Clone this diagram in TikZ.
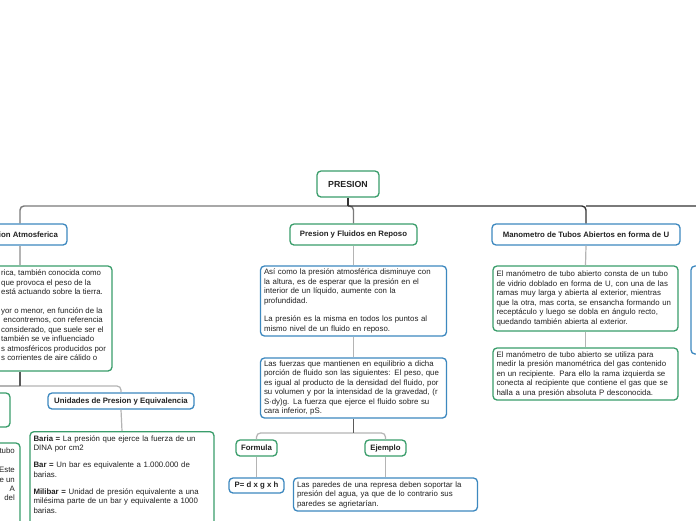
\documentclass[tikz,border=0pt]{standalone}
\usepackage{fontspec}
\setmainfont{Liberation Sans}
\definecolor{gboxc}{HTML}{3A9D6B}
\definecolor{bboxc}{HTML}{3D88BF}
\definecolor{txt}{HTML}{222222}
\definecolor{railgc}{HTML}{7A7A7A}
\definecolor{raildc}{HTML}{333333}
\definecolor{linkc}{HTML}{B4B4B4}
\definecolor{linkdc}{HTML}{5A5A5A}
\tikzset{
  boxbase/.style={draw, rounded corners=4pt, line width=1.3pt, fill=white, text=txt},
  body/.style={boxbase, inner xsep=3.5pt, inner ysep=2pt, align=left, font=\fontsize{7.85}{9.5}\selectfont},
  gbody/.style={body, draw=gboxc},
  bbody/.style={body, draw=bboxc},
  head/.style={boxbase, inner sep=0pt, align=center, font=\bfseries\fontsize{7.8}{9}\selectfont},
  ghead/.style={head, draw=gboxc},
  bhead/.style={head, draw=bboxc},
  plain/.style={inner sep=0pt, align=left, text=txt, font=\fontsize{7.85}{9.4}\selectfont},
  railg/.style={draw=railgc, line width=1.4pt},
  raild/.style={draw=raildc, line width=1.4pt},
  link/.style={draw=linkc, line width=1.2pt},
  linkd/.style={draw=linkdc, line width=1.2pt},
}
\begin{document}
\begin{tikzpicture}[x=1pt,y=-1pt]
\useasboundingbox (0,0) rectangle (696,520);
\fill[white] (0,0) rectangle (696,520);
\clip (0,0) rectangle (696,520);

% root
\node[ghead, minimum width=62, minimum height=26, font=\bfseries\fontsize{8.8}{10}\selectfont] (pres) at (348,184) {PRESION};

% headers
\node[bhead, minimum width=94, minimum height=21] (pa) at (20,234.5) {Presion Atmosferica};
\node[ghead, minimum width=127, minimum height=21] (pyf) at (353.5,234.5) {Presion y Fluidos en Reposo};
\node[bhead, minimum width=188, minimum height=21] (man) at (586,234.5) {Manometro de Tubos Abiertos en forma de U};

% left column
\node[gbody, minimum width=184, minimum height=105] (pab) at (20,318.5) {};
\node[plain, anchor=north west] (pat) at (1,270) {rica, también conocida como\\
que provoca el peso de la\\
está actuando sobre la tierra.\\[9.4pt]
yor o menor, en función de la\\
\ encontremos, con referencia\\
considerado, que suele ser el\\
también se ve influenciado\\
s atmosféricos producidos por\\
s corrientes de aire cálido o};

\node[bhead, minimum width=146, minimum height=16] (uni) at (121,401) {Unidades de Presion y Equivalencia};
\node[gbody, minimum width=50, minimum height=34] (sl) at (-15,410) {};
\node[gbody, minimum width=80, minimum height=90] (ll) at (-20,488) {};
\node[plain, anchor=north east, align=right] (llt) at (15,448) {tubo\\[9.4pt]
Este\\
e un\\
A\hspace{8pt}\\
del\hspace{1pt}};

\node[gbody, text width=177, inner ysep=4pt, anchor=north] (baria) at (122,431) {\textbf{Baria =} La presión que ejerce la fuerza de un\\
DINA por cm2\\[7.5pt]
\textbf{Bar =} Un bar es equivalente a 1.000.000 de\\
barias.\\[7.5pt]
\textbf{Milibar =} Unidad de presión equivalente a una\\
milésima parte de un bar y equivalente a 1000\\
barias.\rule[-12pt]{0pt}{12pt}};

% middle column
\node[bbody, text width=179, minimum height=70] (b1) at (353.5,301) {Así como la presión atmosférica disminuye con\\
la altura, es de esperar que la presión en el\\
interior de un líquido, aumente con la\\
profundidad.\\[9pt]
La presión es la misma en todos los puntos al\\
mismo nivel de un fluido en reposo.};
\node[bbody, text width=179, minimum height=60] (b2) at (353.5,388) {Las fuerzas que mantienen en equilibrio a dicha\\
porción de fluido son las siguientes: El peso, que\\
es igual al producto de la densidad del fluido, por\\
su volumen y por la intensidad de la gravedad, (r\\
S·dy)g. La fuerza que ejerce el fluido sobre su\\
cara inferior, pS.};
\node[ghead, minimum width=41, minimum height=16] (form) at (256.5,448) {Formula};
\node[ghead, minimum width=41, minimum height=16] (ejem) at (385.5,448) {Ejemplo};
\node[bhead, minimum width=55, minimum height=15] (pfor) at (256.5,485.5) {P= d x g x h};
\node[bbody, text width=177, minimum height=33] (ejb) at (385.5,494.5) {Las paredes de una represa deben soportar la\\
presión del agua, ya que de lo contrario sus\\
paredes se agrietarían.};

% right column
\node[gbody, text width=178, minimum height=65] (m1) at (585.5,298.5) {El manómetro de tubo abierto consta de un tubo\\
de vidrio doblado en forma de U, con una de las\\
ramas muy larga y abierta al exterior, mientras\\
que la otra, mas corta, se ensancha formando un\\
receptáculo y luego se dobla en ángulo recto,\\
quedando también abierta al exterior.};
\node[gbody, text width=178, minimum height=52] (m2) at (585.5,374) {El manómetro de tubo abierto se utiliza para\\
medir la presión manométrica del gas contenido\\
en un recipiente. Para ello la rama izquierda se\\
conecta al recipiente que contiene el gas que se\\
halla a una presión absoluta P desconocida.};
\node[bbody, minimum width=70, minimum height=88] (fr) at (726,310) {};

% rails
\coordinate (j0) at (348,206);
\coordinate (jm) at (586,206);
\coordinate (jr) at (705,206);
\draw[railg, rounded corners=4pt] (j0) -- (20,206) -- (pa.north);
\draw[railg, rounded corners=4pt] (j0) -- (353.5,206) -- (pyf.north);
\draw[railg] (jm) -- (jr);
\draw[raild, rounded corners=4pt] (j0) -- (586,206) -- (man.north);
\draw[raild] (pres.south) -- (j0);

% left links
\coordinate (j1) at (20,386);
\coordinate (jl) at (-5,386);
\draw[link] (pa.south) -- (pab.north);
\draw[link] (j1) -- (jl);
\draw[link, rounded corners=4pt] (j1) -- (121,386) -- (uni.north);
\draw[linkd] (pab.south) -- (j1);
\draw[link] (uni.south) -- (baria.north);

% middle links
\coordinate (j2) at (353.5,433);
\draw[link] (pyf.south) -- (b1.north);
\draw[link] (b1.south) -- (b2.north);
\draw[link, rounded corners=4pt] (j2) -| (form.north);
\draw[link, rounded corners=4pt] (j2) -| (ejem.north);
\draw[linkd] (b2.south) -- (j2);
\draw[link] (form.south) -- (pfor.north);
\draw[link] (ejem.south) -- (ejb.north);

% right links
\draw[link] (man.south) -- (m1.north);
\draw[link] (m1.south) -- (m2.north);
\end{tikzpicture}
\end{document}
